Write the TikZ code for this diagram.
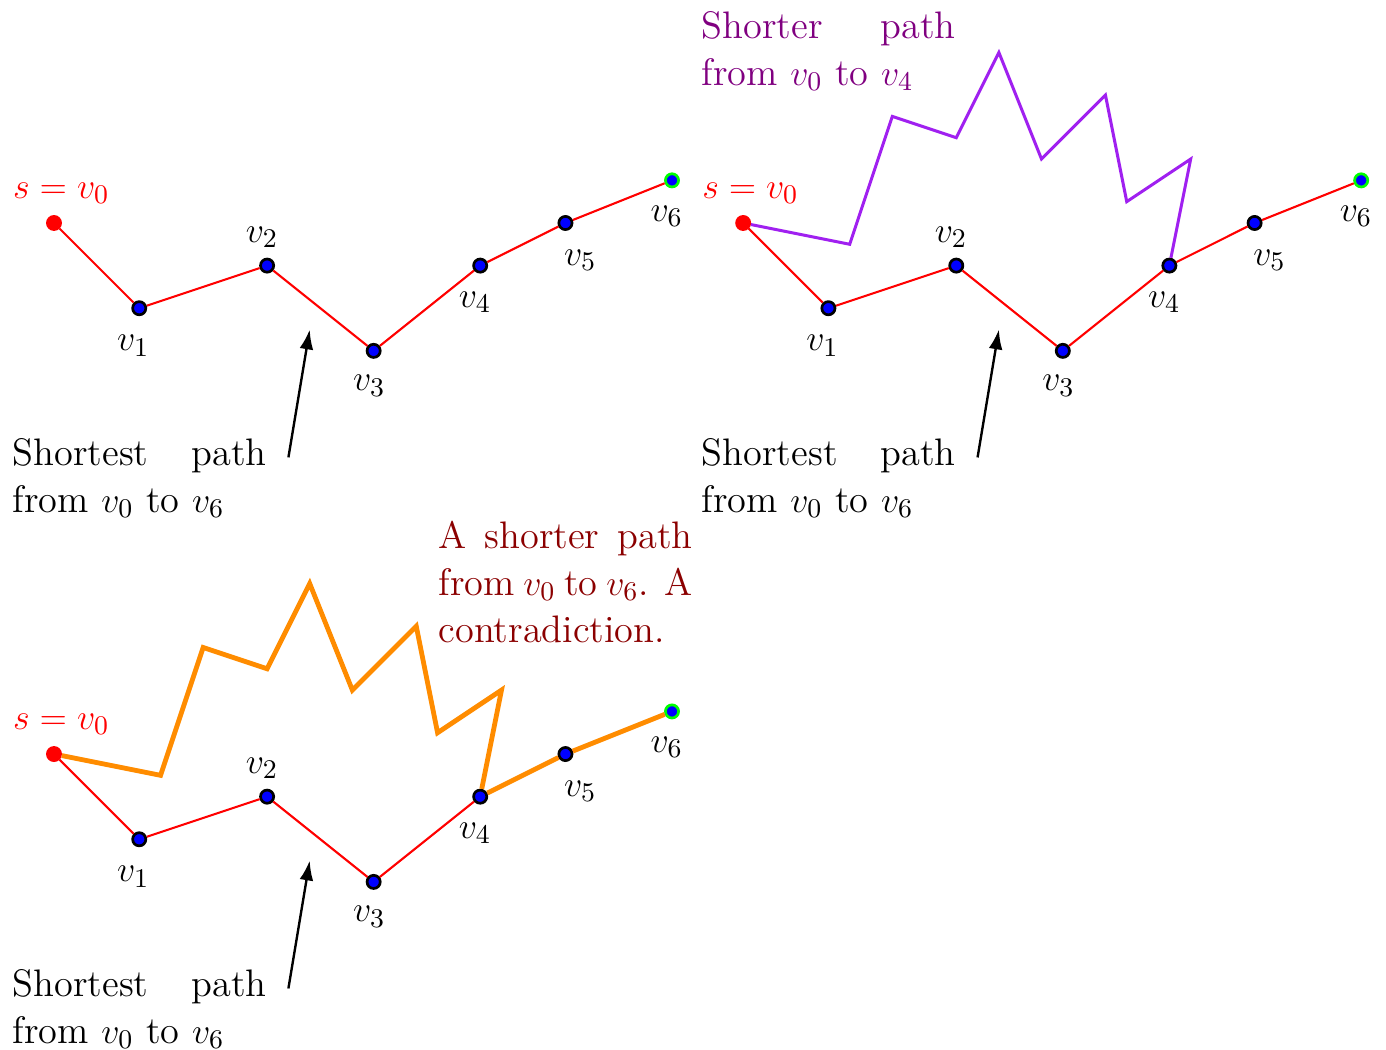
\documentclass[tikz,border=0pt]{standalone}
\usetikzlibrary{calc,arrows.meta}
\definecolor{zigpurple}{RGB}{160,32,240}
\definecolor{txtpurple}{RGB}{128,0,128}
\definecolor{txtdarkred}{RGB}{139,0,0}
\definecolor{zigorange}{RGB}{255,140,0}
\definecolor{dotgreen}{RGB}{0,255,0}
\tikzset{
  dot/.style={circle,inner sep=0pt,minimum size=4.4pt,line width=0.9pt,draw=black,fill=blue},
  srcdot/.style={dot,draw=red,fill=red},
  enddot/.style={dot,draw=dotgreen,fill=blue},
  redpath/.style={draw=red,line width=0.7pt},
  lbl/.style={inner sep=0pt},
  note/.style={inner sep=0pt,anchor=north west,text width=2.98cm,align=justify},
  pointer/.style={-{Latex[length=6.6pt,width=4.6pt]},line width=0.8pt},
}
\newcommand{\basepanel}[2]{%
  \begin{scope}[shift={#2}]
    \node[srcdot] (#1v0) at (0,0) {};
    \node[dot] (#1v1) at (2,-2) {};
    \node[dot] (#1v2) at (5,-1) {};
    \node[dot] (#1v3) at (7.5,-3) {};
    \node[dot] (#1v4) at (10,-1) {};
    \node[dot] (#1v5) at (12,0) {};
    \node[enddot] (#1v6) at (14.5,1) {};
    \draw[redpath] (#1v0) -- (#1v1) -- (#1v2) -- (#1v3) -- (#1v4) -- (#1v5) -- (#1v6);
    \node[lbl,text=red] (#1l0) at ($(#1v0)+(0.17,0.70)$) {$s=v_0$};
    \node[lbl] (#1l1) at ($(#1v1)+(-0.14,-0.88)$) {$v_1$};
    \node[lbl] (#1l2) at ($(#1v2)+(-0.12,0.66)$) {$v_2$};
    \node[lbl] (#1l3) at ($(#1v3)+(-0.10,-0.82)$) {$v_3$};
    \node[lbl] (#1l4) at ($(#1v4)+(-0.12,-0.86)$) {$v_4$};
    \node[lbl] (#1l5) at ($(#1v5)+(0.35,-0.88)$) {$v_5$};
    \node[lbl] (#1l6) at ($(#1v6)+(-0.12,-0.84)$) {$v_6$};
    \node[note] (#1txt) at (-0.985,-5.04) {Shortest path from $v_0$ to $v_6$};
    \coordinate (#1tail) at (5.5,-5.5);
    \coordinate (#1head) at (6,-2.5);
    \draw[pointer] (#1tail) -- (#1head);
  \end{scope}}
\begin{document}
\begin{tikzpicture}[x=0.5cm,y=0.5cm,every node/.append style={font=\fontsize{12.8}{15.7}\selectfont}]
\useasboundingbox (-1.267,-19.404) rectangle (31.253,5.232);
% top-left panel
\basepanel{a}{(0,0)}
% top-right panel
\basepanel{b}{(16.17,0)}
\draw[draw=zigpurple,line width=1pt] (bv0) -- ($(bv0)+(2.5,-0.5)$) -- ($(bv0)+(3.5,2.5)$) -- ($(bv0)+(5,2)$) -- ($(bv0)+(6,4)$) -- ($(bv0)+(7,1.5)$) -- ($(bv0)+(8.5,3)$) -- ($(bv0)+(9,0.5)$) -- ($(bv0)+(10.5,1.5)$) -- (bv4);
\node[note,text=txtpurple] (btxt2) at (15.185,4.98) {Shorter path from $v_0$ to $v_4$};
% bottom panel
\basepanel{c}{(0,-12.46)}
\draw[draw=zigorange,line width=1.6pt] (cv0) -- ($(cv0)+(2.5,-0.5)$) -- ($(cv0)+(3.5,2.5)$) -- ($(cv0)+(5,2)$) -- ($(cv0)+(6,4)$) -- ($(cv0)+(7,1.5)$) -- ($(cv0)+(8.5,3)$) -- ($(cv0)+(9,0.5)$) -- ($(cv0)+(10.5,1.5)$) -- (cv4) -- (cv5) -- (cv6);
\node[note,text=txtdarkred] (ctxt2) at (9.01,-6.97) {A shorter path from $v_0$ to $v_6$. A contradiction.};
\end{tikzpicture}
\end{document}
